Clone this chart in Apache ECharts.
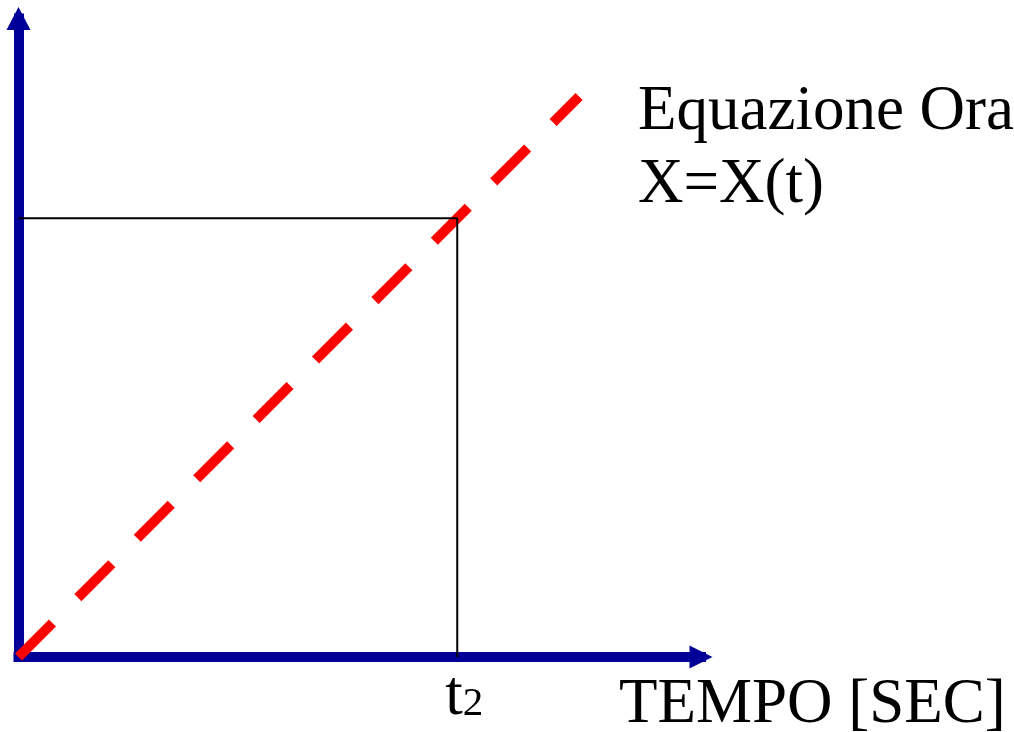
<!DOCTYPE html>
<html><head><meta charset="utf-8">
<script src="https://cdn.jsdelivr.net/npm/echarts@6/dist/echarts.min.js"></script>
<style>html,body{margin:0;padding:0;background:#fff}#c{width:1014px;height:732px}</style>
</head><body><div id="c"></div>
<script>
// ---- data ----
const lawPoints = [[0, 0], [11.5, 11.5]];      // X = X(t)  (red dashed law of motion)
const t2 = 9;
const x2 = 9;
const guidePoints = [[0, x2], [t2, x2], [t2, 0]]; // thin black guides to (t2, X(t2))
const xTickValues = [t2];
const xTickLabels = ['t2'];
const xMax = 14;
const yMax = 13.1;
const xAxisName = 'TEMPO [SEC]';
const lawLabelLines = ['Equazione Ora', 'X=X(t)'];

const SERIF = '"Liberation Serif","Times New Roman",serif';
const AXIS_BLUE = '#000099';

const chart = echarts.init(document.getElementById('c'), null, {renderer: 'canvas'});
chart.setOption({
  animation: false,
  backgroundColor: '#ffffff',
  grid: {left: 18.5, right: 313, top: 18.5, bottom: 75, containLabel: false},
  xAxis: {
    type: 'value', min: 0, max: xMax,
    axisLine: {show: true, onZero: false, symbol: ['none', 'triangle'], symbolSize: [23, 23],
      lineStyle: {color: AXIS_BLUE, width: 10, cap: 'square'}},
    axisTick: {show: false},
    splitLine: {show: false},
    axisLabel: {
      show: true, customValues: xTickValues, margin: 10, padding: [0, 0, 0, 14],
      formatter: function (v) {
        const i = xTickValues.indexOf(v);
        const s = i >= 0 ? xTickLabels[i] : '';
        return '{t|' + s.charAt(0) + '}{s|' + s.slice(1) + '}';
      },
      rich: {
        t: {fontSize: 63, fontFamily: SERIF, color: '#000', verticalAlign: 'bottom', lineHeight: 62},
        s: {fontSize: 41, fontFamily: SERIF, color: '#000', verticalAlign: 'bottom', lineHeight: 62, padding: [0, 0, 4, 0]}
      }
    }
  },
  yAxis: {
    type: 'value', min: 0, max: yMax,
    axisLine: {show: true, onZero: false, symbol: ['none', 'triangle'], symbolSize: [24, 23],
      lineStyle: {color: AXIS_BLUE, width: 10, cap: 'square'}},
    axisTick: {show: false},
    splitLine: {show: false},
    axisLabel: {show: false}
  },
  series: [
    {
      type: 'line', name: 'X=X(t)', data: lawPoints, symbol: 'none', silent: true, z: 3,
      lineStyle: {color: '#ff0000', width: 10, type: [48, 36], cap: 'butt'}
    },
    {
      type: 'line', name: 'guide', data: guidePoints, symbol: 'none', silent: true, z: 4,
      lineStyle: {color: '#000000', width: 2, type: 'solid'}
    }
  ],
  graphic: [
    {type: 'text', left: 638, top: 76, silent: true,
      style: {text: lawLabelLines.join('\n'), fontSize: 63, fontFamily: SERIF, fill: '#000', lineHeight: 73}},
    {type: 'text', left: 619, top: 674, silent: true,
      style: {text: xAxisName, fontSize: 63, fontFamily: SERIF, fill: '#000', lineHeight: 62}}
  ]
});
</script>
</body></html>
